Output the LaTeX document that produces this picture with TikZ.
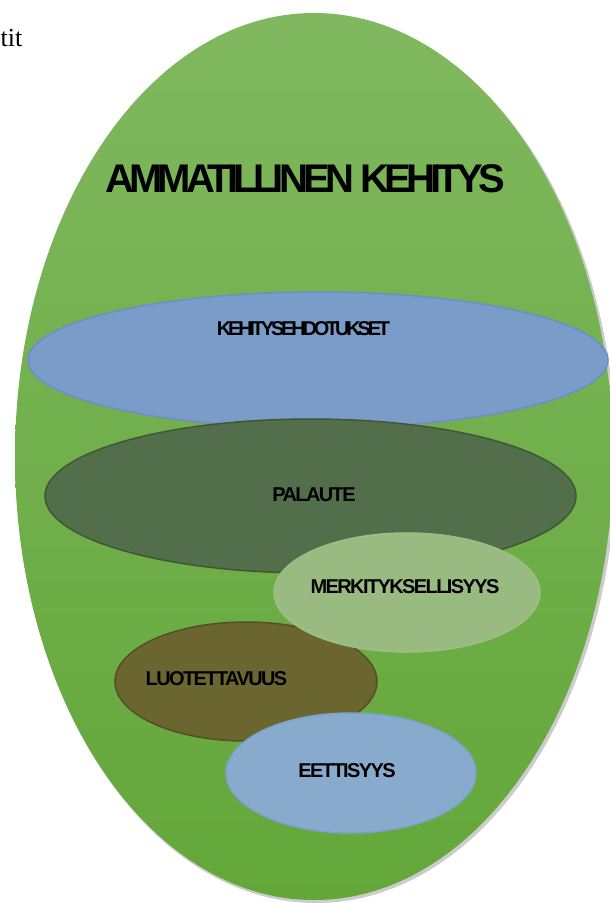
\documentclass[tikz,border=0pt]{standalone}
\usepackage{fontspec}
\setmainfont{Liberation Serif}
\newfontfamily\lblfont[LetterSpace=-8]{Liberation Sans}
\definecolor{bigtop}{HTML}{80B85F}
\definecolor{bigbot}{HTML}{63A739}
\definecolor{kehfill}{HTML}{7B9BC9}
\definecolor{kehline}{HTML}{6A8EC6}
\definecolor{palfill}{HTML}{526E4A}
\definecolor{palline}{HTML}{3E5834}
\definecolor{merfill}{HTML}{99BB81}
\definecolor{merline}{HTML}{9CBF85}
\definecolor{luofill}{HTML}{6B652F}
\definecolor{luoline}{HTML}{534F27}
\definecolor{eetfill}{HTML}{88ABCD}
\definecolor{eetline}{HTML}{7AA3CC}
\newcommand{\bubble}[5]
{   \filldraw[fill=#4, draw=#5, line width=1.5pt] #1 ellipse ({#2} and {#3});
}
\newcommand{\lblsize}{\fontsize{20}{24}\selectfont}

\begin{document}
\begin{tikzpicture}[x=1pt, y=-1pt, lbl/.style={anchor=base, font=\lblfont\bfseries\lblsize}]
 \useasboundingbox (0,0) rectangle (610,903);

 \fill[black!40, opacity=.5] (316,459) ellipse (300 and 444);
 \shade[top color=bigtop, bottom color=bigbot] (314,456.5) ellipse (299 and 443.5);

 \bubble{(318,360)}{290}{68}{kehfill}{kehline}
 \bubble{(310.5,496)}{265.5}{77}{palfill}{palline}
 \bubble{(246,681.5)}{131}{59.5}{luofill}{luoline}
 \bubble{(407,592.5)}{133}{59.5}{merfill}{merline}
 \bubble{(351,773)}{125}{60}{eetfill}{eetline}

   \draw (0.5,46) node[anchor=base west, inner sep=0pt, font=\fontsize{26}{26}\selectfont] (tit) {tit};
   \draw (305,192) node[anchor=base, font=\lblfont\bfseries\fontsize{40}{44}\selectfont\addfontfeature{LetterSpace=-12}] (title) {AMMATILLINEN KEHITYS};
   \draw (303.5,335) node[lbl, font={\lblfont\bfseries\lblsize\addfontfeature{LetterSpace=-16}}] (kehitys) {KEHITYSEHDOTUKSET};
   \draw (314,501) node[lbl] (palaute) {PALAUTE};
   \draw (405,593) node[lbl] (merkitys) {MERKITYKSELLISYYS};
   \draw (216.5,685) node[lbl] (luotettavuus) {LUOTETTAVUUS};
   \draw (347,777) node[lbl] (etiikka) {EETTISYYS};

\end{tikzpicture}
\end{document}
